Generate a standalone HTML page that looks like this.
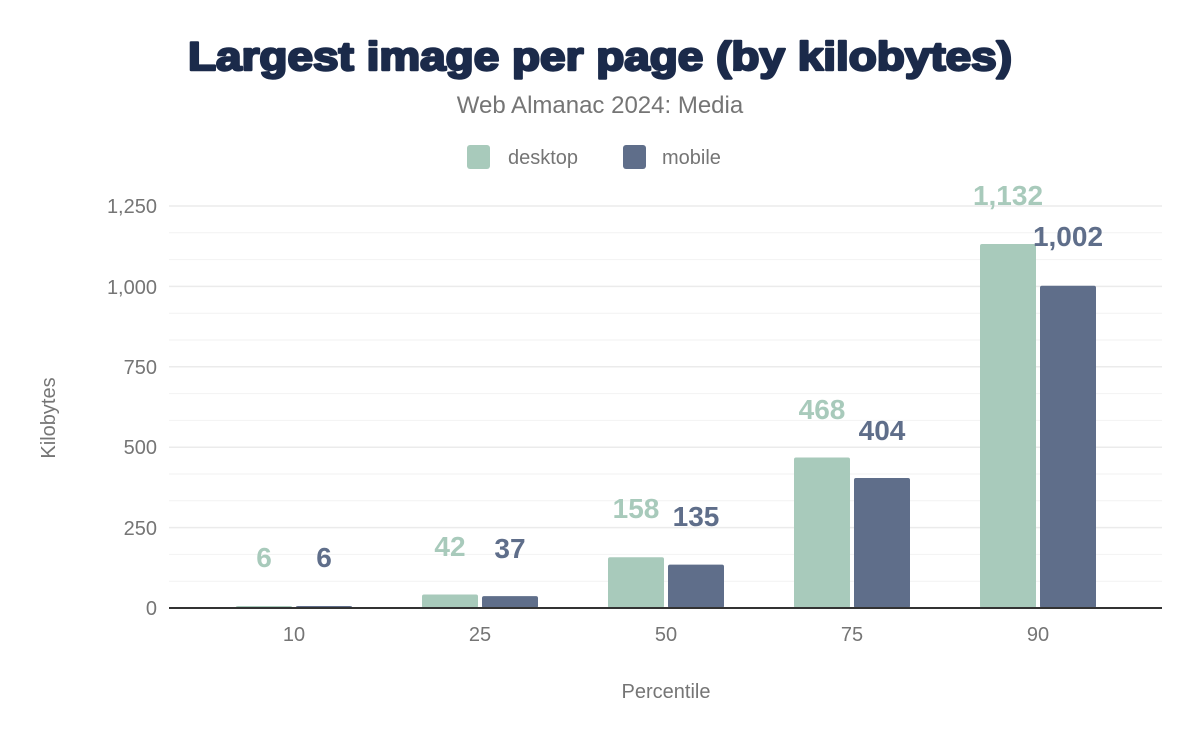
<!DOCTYPE html>
<html><head><meta charset="utf-8"><style>
html,body{margin:0;padding:0;background:#fff;}
svg{display:block;font-family:"Liberation Sans",Arial,sans-serif;}
</style></head><body>
<svg width="1200" height="742" viewBox="0 0 1200 742" xmlns="http://www.w3.org/2000/svg">
<rect width="1200" height="742" fill="#fff"/>
<text x="600" y="70" text-anchor="middle" font-size="40" font-weight="bold" fill="#1b2a4a" stroke="#1b2a4a" stroke-width="2.4" stroke-linejoin="round" textLength="824" lengthAdjust="spacingAndGlyphs">Largest image per page (by kilobytes)</text>
<text x="600" y="113" text-anchor="middle" font-size="24" fill="#757575">Web Almanac 2024: Media</text>
<rect x="467" y="145" width="23" height="24" rx="3" fill="#a8cabb"/>
<text x="508" y="164" font-size="20" fill="#757575">desktop</text>
<rect x="623" y="145" width="23" height="24" rx="3" fill="#5f6e8a"/>
<text x="662" y="164" font-size="20" fill="#757575">mobile</text>
<g stroke="#f2f2f2" stroke-width="1">
<line x1="169" x2="1162" y1="581.2" y2="581.2"/><line x1="169" x2="1162" y1="554.4" y2="554.4"/>
<line x1="169" x2="1162" y1="500.8" y2="500.8"/><line x1="169" x2="1162" y1="474" y2="474"/>
<line x1="169" x2="1162" y1="420.4" y2="420.4"/><line x1="169" x2="1162" y1="393.6" y2="393.6"/>
<line x1="169" x2="1162" y1="340" y2="340"/><line x1="169" x2="1162" y1="313.2" y2="313.2"/>
<line x1="169" x2="1162" y1="259.6" y2="259.6"/><line x1="169" x2="1162" y1="232.8" y2="232.8"/>
</g>
<g stroke="#ebebeb" stroke-width="1.5">
<line x1="169" x2="1162" y1="527.6" y2="527.6"/><line x1="169" x2="1162" y1="447.2" y2="447.2"/>
<line x1="169" x2="1162" y1="366.8" y2="366.8"/><line x1="169" x2="1162" y1="286.4" y2="286.4"/>
<line x1="169" x2="1162" y1="206" y2="206"/>
</g>
<g font-size="20" fill="#757575" text-anchor="end">
<text x="157" y="615">0</text><text x="157" y="535">250</text><text x="157" y="454">500</text>
<text x="157" y="374">750</text><text x="157" y="294">1,000</text><text x="157" y="213">1,250</text>
</g>
<text transform="translate(55,418) rotate(-90)" text-anchor="middle" font-size="20" fill="#757575">Kilobytes</text>
<g fill="#a8cabb">
<rect x="236" y="606" width="56" height="2" rx="2"/>
<rect x="422" y="594.5" width="56" height="13.5" rx="2"/>
<rect x="608" y="557.2" width="56" height="50.8" rx="2"/>
<rect x="794" y="457.5" width="56" height="150.5" rx="2"/>
<rect x="980" y="244" width="56" height="364" rx="2"/>
</g>
<g fill="#5f6e8a">
<rect x="296" y="606" width="56" height="2" rx="2"/>
<rect x="482" y="596.1" width="56" height="11.9" rx="2"/>
<rect x="668" y="564.6" width="56" height="43.4" rx="2"/>
<rect x="854" y="478" width="56" height="130" rx="2"/>
<rect x="1040" y="285.8" width="56" height="322.2" rx="2"/>
</g>
<line x1="169" x2="1162" y1="608" y2="608" stroke="#333" stroke-width="2"/>
<g font-size="28" font-weight="bold" text-anchor="middle" fill="#a8cabb">
<text x="264" y="567">6</text><text x="450" y="556">42</text><text x="636" y="518">158</text>
<text x="822" y="419">468</text><text x="1008" y="205">1,132</text>
</g>
<g font-size="28" font-weight="bold" text-anchor="middle" fill="#5f6e8a">
<text x="324" y="567">6</text><text x="510" y="558">37</text><text x="696" y="526">135</text>
<text x="882" y="440">404</text><text x="1068" y="246">1,002</text>
</g>
<g font-size="20" fill="#757575" text-anchor="middle">
<text x="294" y="641">10</text><text x="480" y="641">25</text><text x="666" y="641">50</text>
<text x="852" y="641">75</text><text x="1038" y="641">90</text>
</g>
<text x="666" y="698" text-anchor="middle" font-size="20" fill="#757575">Percentile</text>
</svg>
</body></html>
